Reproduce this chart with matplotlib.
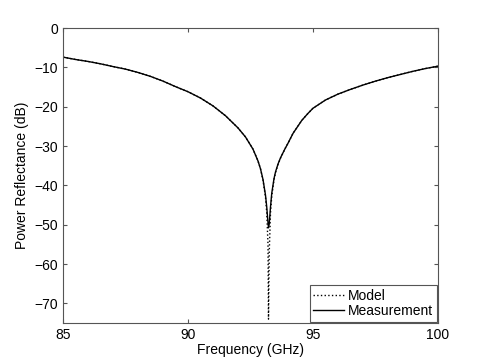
import matplotlib
matplotlib.use("Agg")
import matplotlib.pyplot as plt

plt.rcParams['font.family'] = ['Liberation Sans', 'DejaVu Sans']

freq = [85.0, 85.5, 86.0, 86.5, 87.0, 87.5, 88.0, 88.5, 89.0, 89.5, 90.0, 90.5,
        91.0, 91.5, 92.0, 92.3, 92.6, 92.8, 92.9, 93.0, 93.1, 93.15, 93.2, 93.22, 93.25,
        93.3, 93.35, 93.44, 93.5, 93.6, 93.7, 93.88, 94.0, 94.2, 94.55, 94.8, 95.0, 95.5, 96.0,
        96.5, 97.0, 97.5, 98.0, 98.5, 99.0, 99.5, 100.0]

measurement = [-7.4, -8.0, -8.5, -9.1, -9.8, -10.45, -11.3, -12.3, -13.5, -14.9, -16.2, -17.8,
               -19.8, -22.3, -25.4, -27.7, -30.8, -33.8, -35.8, -38.5, -42.5, -45.5, -49.5, -50.8, -49.8,
               -45.5, -42.0, -38.3, -36.6, -34.6, -33.0, -30.7, -29.3, -26.8, -23.5, -21.7, -20.4, -18.3, -16.8,
               -15.6, -14.5, -13.5, -12.6, -11.8, -11.0, -10.3, -9.7]

model = [-7.4, -8.0, -8.5, -9.1, -9.8, -10.45, -11.3, -12.3, -13.5, -14.9, -16.2, -17.8,
         -19.8, -22.3, -25.4, -27.7, -30.8, -33.8, -35.8, -38.7, -43.0, -47.0, -55.0, -74.0, -57.0,
         -47.0, -42.8, -38.6, -36.8, -34.7, -33.1, -30.7, -29.3, -26.8, -23.5, -21.7, -20.4, -18.3, -16.8,
         -15.6, -14.5, -13.5, -12.6, -11.8, -11.0, -10.3, -9.7]

xticks = [85, 90, 95, 100]
yticks = [0, -10, -20, -30, -40, -50, -60, -70]

fig = plt.figure(figsize=(4.85, 3.64), dpi=100)
ax = fig.add_axes([0.13, 0.1126, 0.773, 0.8104])

ax.plot(freq, model, color='black', linestyle=':', linewidth=1.0, label='Model')
ax.plot(freq, measurement, color='black', linestyle='-', linewidth=1.0, label='Measurement')

ax.set_xlim(85, 100)
ax.set_ylim(-75, 0)
ax.set_xticks(xticks)
ax.set_yticks(yticks)
ax.tick_params(direction='in', top=True, right=True, labelsize=10, length=3, color='#555555')
for s in ax.spines.values():
    s.set_color('#555555')
    s.set_linewidth(0.8)
ax.set_xlabel('Frequency (GHz)', fontsize=10, labelpad=1)
ax.set_ylabel('Power Reflectance (dB)', fontsize=10, labelpad=4)

leg = ax.legend(loc='lower right', fontsize=10, handlelength=2.2, handletextpad=0.3,
                borderaxespad=0.1, fancybox=False, framealpha=1, borderpad=0.25,
                labelspacing=0.1)
leg.get_frame().set_edgecolor('#555555')
leg.get_frame().set_linewidth(0.8)

fig.savefig('out.png', dpi=100)
